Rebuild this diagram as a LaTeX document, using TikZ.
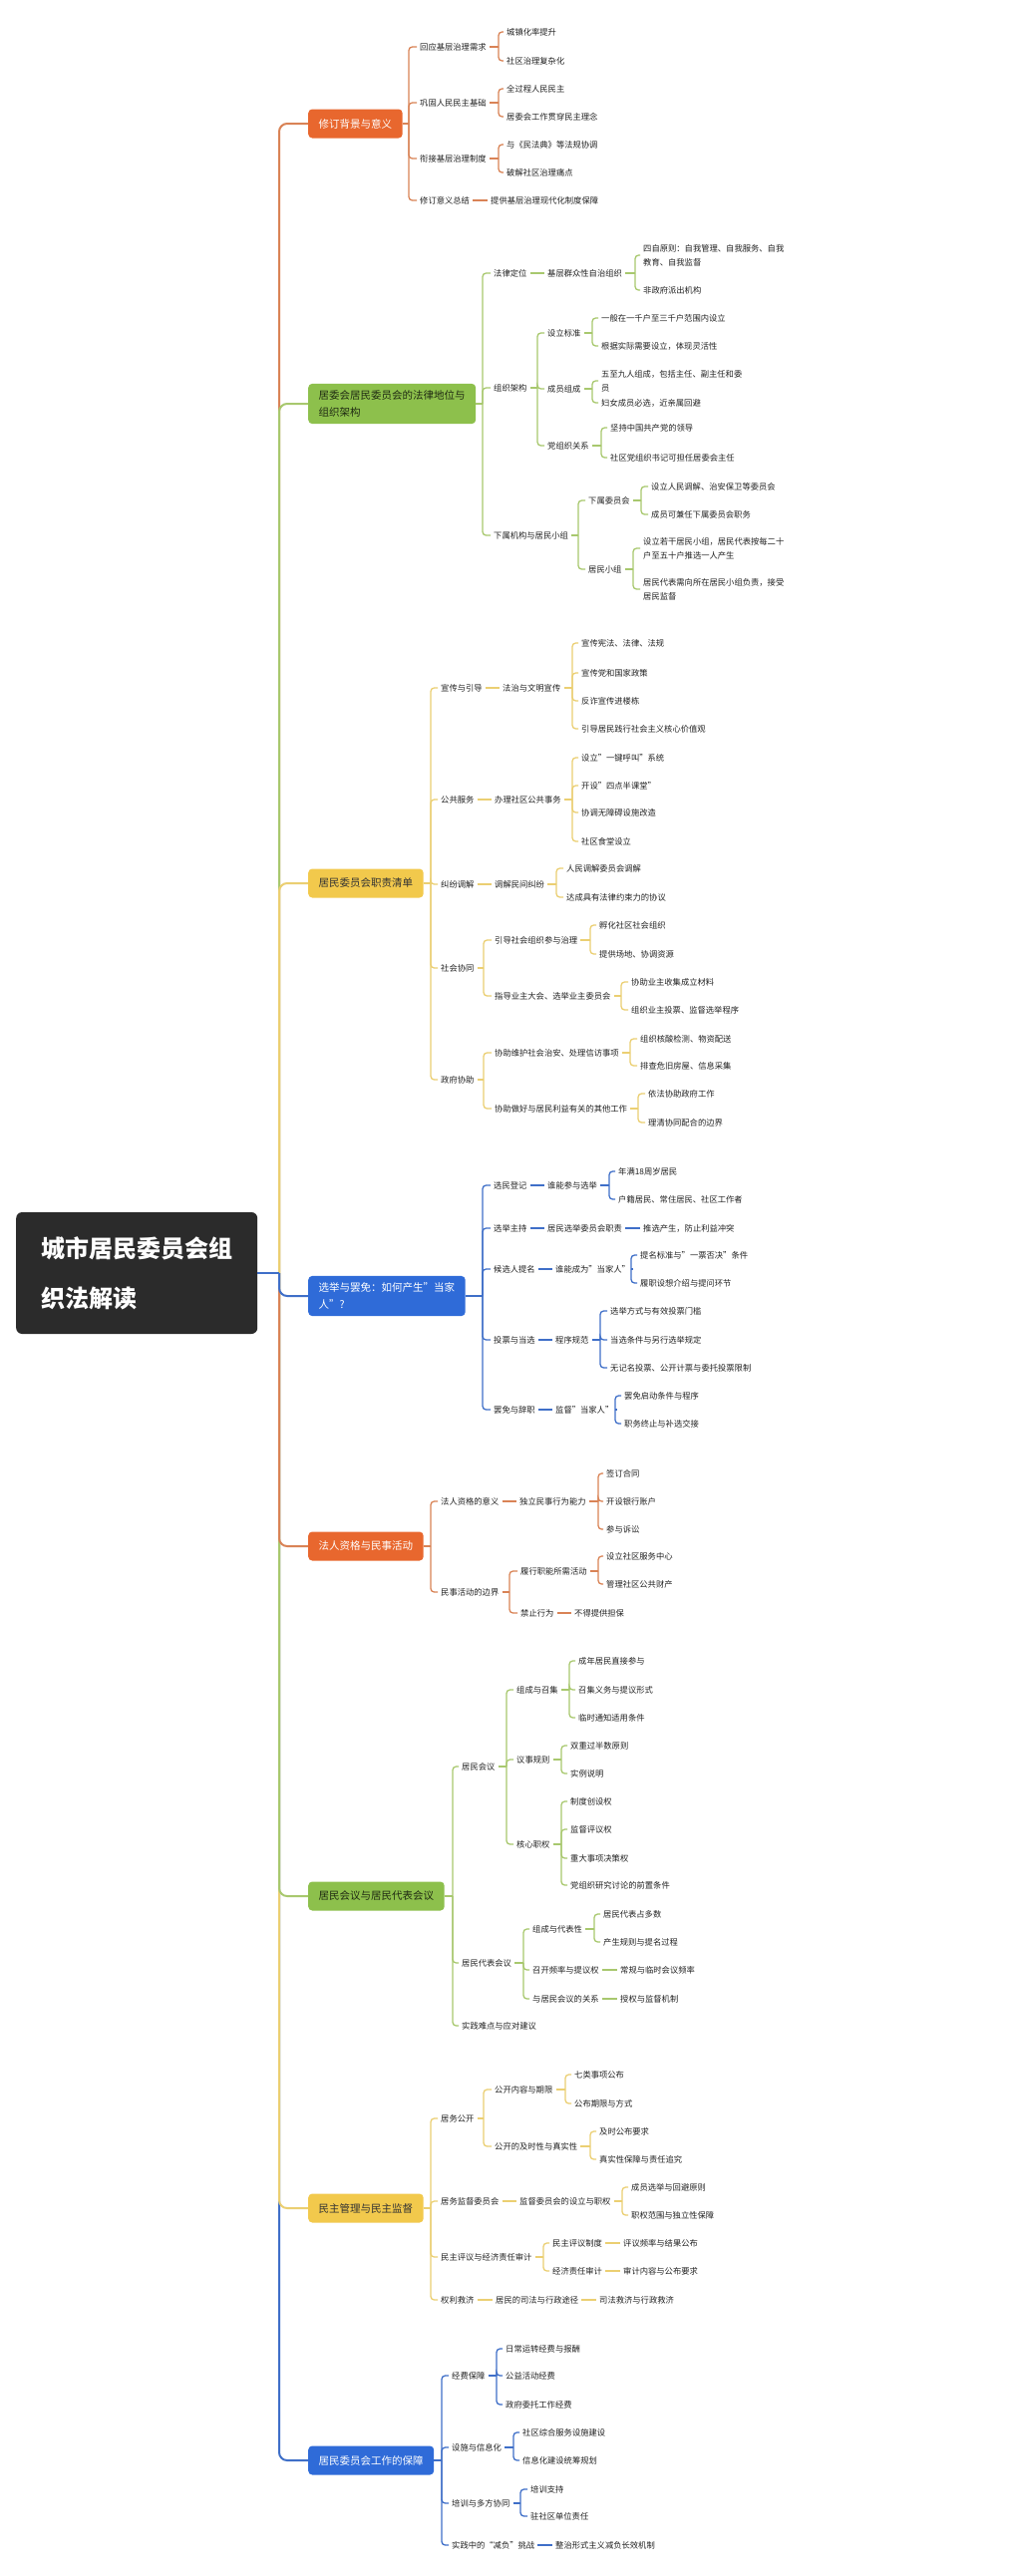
\documentclass[tikz,border=0pt]{standalone}
\usepackage{fontspec}
\setmainfont{Noto Sans CJK SC}
\definecolor{oB}{HTML}{E8672E}
\definecolor{oL}{HTML}{D98356}
\definecolor{gB}{HTML}{8DC04C}
\definecolor{gL}{HTML}{A8C86E}
\definecolor{gT}{HTML}{1F2A12}
\definecolor{yB}{HTML}{F2C94C}
\definecolor{yL}{HTML}{EBCF72}
\definecolor{yT}{HTML}{333333}
\definecolor{bB}{HTML}{2F6BD8}
\definecolor{bL}{HTML}{3F6FC8}
\definecolor{rootC}{HTML}{2B2B2B}
\definecolor{txt}{HTML}{222222}
\def\bc{oL}
\newcommand\mtext[4]{\node[t] (#1) at ({#2-3},{-#3}) {#4};}
\newcommand\mfork[3]{\coordinate (#1j) at (#1.east -| #2,0);
  \draw[c] (#1.east) -- (#1j);
  \foreach \kid in {#3}{\draw[c,rounded corners=3.5pt] (#1j) |- (\kid.west);}}
\newcommand\mlink[2]{\draw[c] (#1.east) -- (#2.west);}
\begin{document}
\begin{tikzpicture}[x=1pt,y=1pt,
 t/.style={anchor=west, inner xsep=3pt, inner ysep=1pt, text=txt, font=\fontsize{8.3}{13.8}\selectfont, align=left},
 lone/.style={anchor=west, rounded corners=4pt, inner xsep=10.5pt, inner ysep=7pt, minimum height=29pt, font=\fontsize{10.5}{16.5}\selectfont, align=left},
 c/.style={draw=\bc, line width=1.3pt},
 trunk/.style={line width=2pt, rounded corners=8pt}]
\fill[white] (0,0) rectangle (1013,-2584);
\useasboundingbox (0,0) rectangle (1013,-2584);

% root
\node[anchor=west, fill=rootC, rounded corners=6pt, text=white, font=\fontsize{24}{50}\selectfont\bfseries, inner xsep=25pt, minimum height=122pt, align=left] (root) at (16,-1277) {城市居民委员会组\\织法解读};

% level-1 boxes
\node[lone, fill=oB, text=white] (a) at (309,-124) {修订背景与意义};
\node[lone, fill=gB, text=gT] (b) at (309,-405) {居委会居民委员会的法律地位与\\组织架构};
\node[lone, fill=yB, text=yT] (c) at (309,-886) {居民委员会职责清单};
\node[lone, fill=bB, text=white] (d) at (309,-1300) {选举与罢免：如何产生"当家\\人"?};
\node[lone, fill=oB, text=white] (e) at (309,-1551) {法人资格与民事活动};
\node[lone, fill=gB, text=gT] (f) at (309,-1902) {居民会议与居民代表会议};
\node[lone, fill=yB, text=yT] (g) at (309,-2215) {民主管理与民主监督};
\node[lone, fill=bB, text=white] (h) at (309,-2468) {居民委员会工作的保障};

% trunk
\coordinate (rj) at (280,-1277);
\draw[trunk, draw=oL] (rj) |- (a.west);
\draw[trunk, draw=gL] (rj) |- (b.west);
\draw[trunk, draw=yL] (rj) |- (c.west);
\draw[trunk, draw=bL] (rj) |- (h.west);
\draw[trunk, draw=yL] (rj) |- (g.west);
\draw[trunk, draw=gL] (rj) |- (f.west);
\draw[trunk, draw=oL] (rj) |- (e.west);
\draw[trunk, draw=bL] (rj) |- (d.west);
\draw[line width=2pt, draw=bL] (root.east) -- (rj);

% branch a
\def\bc{oL}
\mtext{a1}{421}{47}{回应基层治理需求}
\mtext{a2}{421}{103}{巩固人民民主基础}
\mtext{a3}{421}{159}{衔接基层治理制度}
\mtext{a4}{421}{201}{修订意义总结}
\mfork{a}{410}{a1,a2,a3,a4}
\mtext{a11}{508}{32}{城镇化率提升}
\mtext{a12}{508}{61}{社区治理复杂化}
\mfork{a1}{500}{a11,a12}
\mtext{a21}{508}{89}{全过程人民民主}
\mtext{a22}{508}{117}{居委会工作贯穿民主理念}
\mfork{a2}{500}{a21,a22}
\mtext{a31}{508}{145}{与《民法典》等法规协调}
\mtext{a32}{508}{173}{破解社区治理痛点}
\mfork{a3}{500}{a31,a32}
\mtext{a41}{492}{201}{提供基层治理现代化制度保障}
\mlink{a4}{a41}

% branch b
\def\bc{gL}
\mtext{b1}{495}{274}{法律定位}
\mtext{b2}{495}{389}{组织架构}
\mtext{b3}{495}{537}{下属机构与居民小组}
\mfork{b}{484}{b1,b2,b3}
\mtext{b11}{549}{274}{基层群众性自治组织}
\mlink{b1}{b11}
\mtext{b111}{645}{256}{四自原则：自我管理、自我服务、自我\\教育、自我监督}
\mtext{b112}{645}{291}{非政府派出机构}
\mfork{b11}{637}{b111,b112}
\mtext{b21}{549}{334}{设立标准}
\mtext{b22}{549}{390}{成员组成}
\mtext{b23}{549}{447}{党组织关系}
\mfork{b2}{539}{b21,b22,b23}
\mtext{b211}{603}{319}{一般在一千户至三千户范围内设立}
\mtext{b212}{603}{347}{根据实际需要设立，体现灵活性}
\mfork{b21}{594}{b211,b212}
\mtext{b221}{603}{382}{五至九人组成，包括主任、副主任和委\\员}
\mtext{b222}{603}{404}{妇女成员必选，近亲属回避}
\mfork{b22}{594}{b221,b222}
\mtext{b231}{612}{429}{坚持中国共产党的领导}
\mtext{b232}{612}{459}{社区党组织书记可担任居委会主任}
\mfork{b23}{603}{b231,b232}
\mtext{b31}{590}{502}{下属委员会}
\mtext{b32}{590}{571}{居民小组}
\mfork{b3}{580}{b31,b32}
\mtext{b311}{653}{488}{设立人民调解、治安保卫等委员会}
\mtext{b312}{653}{516}{成员可兼任下属委员会职务}
\mfork{b31}{643}{b311,b312}
\mtext{b321}{645}{550}{设立若干居民小组，居民代表按每二十\\户至五十户推选一人产生}
\mtext{b322}{645}{591}{居民代表需向所在居民小组负责，接受\\居民监督}
\mfork{b32}{635}{b321,b322}

% branch c
\def\bc{yL}
\mtext{c1}{442}{690}{宣传与引导}
\mtext{c2}{442}{802}{公共服务}
\mtext{c3}{442}{887}{纠纷调解}
\mtext{c4}{442}{971}{社会协同}
\mtext{c5}{442}{1083}{政府协助}
\mfork{c}{432}{c1,c2,c3,c4,c5}
\mtext{c11}{504}{690}{法治与文明宣传}
\mlink{c1}{c11}
\mtext{c111}{583}{645}{宣传宪法、法律、法规}
\mtext{c112}{583}{675}{宣传党和国家政策}
\mtext{c113}{583}{703}{反诈宣传进楼栋}
\mtext{c114}{583}{731}{引导居民践行社会主义核心价值观}
\mfork{c11}{574}{c111,c112,c113,c114}
\mtext{c21}{496}{802}{办理社区公共事务}
\mlink{c2}{c21}
\mtext{c211}{583}{760}{设立"一键呼叫"系统}
\mtext{c212}{583}{788}{开设"四点半课堂"}
\mtext{c213}{583}{815}{协调无障碍设施改造}
\mtext{c214}{583}{844}{社区食堂设立}
\mfork{c21}{574}{c211,c212,c213,c214}
\mtext{c31}{496}{887}{调解民间纠纷}
\mlink{c3}{c31}
\mtext{c311}{568}{871}{人民调解委员会调解}
\mtext{c312}{568}{900}{达成具有法律约束力的协议}
\mfork{c31}{558}{c311,c312}
\mtext{c41}{496}{943}{引导社会组织参与治理}
\mtext{c42}{496}{999}{指导业主大会、选举业主委员会}
\mfork{c4}{485}{c41,c42}
\mtext{c411}{601}{928}{孵化社区社会组织}
\mtext{c412}{601}{957}{提供场地、协调资源}
\mfork{c41}{592}{c411,c412}
\mtext{c421}{633}{985}{协助业主收集成立材料}
\mtext{c422}{633}{1013}{组织业主投票、监督选举程序}
\mfork{c42}{623}{c421,c422}
\mtext{c51}{496}{1056}{协助维护社会治安、处理信访事项}
\mtext{c52}{496}{1112}{协助做好与居民利益有关的其他工作}
\mfork{c5}{485}{c51,c52}
\mtext{c511}{642}{1042}{组织核酸检测、物资配送}
\mtext{c512}{642}{1069}{排查危旧房屋、信息采集}
\mfork{c51}{632}{c511,c512}
\mtext{c521}{650}{1097}{依法协助政府工作}
\mtext{c522}{650}{1126}{理清协同配合的边界}
\mfork{c52}{640}{c521,c522}

% branch d
\def\bc{bL}
\mtext{d1}{495}{1189}{选民登记}
\mtext{d2}{495}{1232}{选举主持}
\mtext{d3}{495}{1273}{候选人提名}
\mtext{d4}{495}{1344}{投票与当选}
\mtext{d5}{495}{1414}{罢免与辞职}
\mfork{d}{484}{d1,d2,d3,d4,d5}
\mtext{d11}{549}{1189}{谁能参与选举}
\mlink{d1}{d11}
\mtext{d111}{620}{1175}{年满18周岁居民}
\mtext{d112}{620}{1203}{户籍居民、常住居民、社区工作者}
\mfork{d11}{611}{d111,d112}
\mtext{d21}{549}{1232}{居民选举委员会职责}
\mlink{d2}{d21}
\mtext{d211}{645}{1232}{推选产生，防止利益冲突}
\mlink{d21}{d211}
\mtext{d31}{557}{1273}{谁能成为"当家人"}
\mlink{d3}{d31}
\mtext{d311}{642}{1259}{提名标准与"一票否决"条件}
\mtext{d312}{642}{1287}{履职设想介绍与提问环节}
\mfork{d31}{633}{d311,d312}
\mtext{d41}{557}{1344}{程序规范}
\mlink{d4}{d41}
\mtext{d411}{612}{1315}{选举方式与有效投票门槛}
\mtext{d412}{612}{1344}{当选条件与另行选举规定}
\mtext{d413}{612}{1372}{无记名投票、公开计票与委托投票限制}
\mfork{d41}{602}{d411,d412,d413}
\mtext{d51}{557}{1414}{监督"当家人"}
\mlink{d5}{d51}
\mtext{d511}{626}{1400}{罢免启动条件与程序}
\mtext{d512}{626}{1428}{职务终止与补选交接}
\mfork{d51}{617}{d511,d512}

% branch e
\def\bc{oL}
\mtext{e1}{442}{1506}{法人资格的意义}
\mtext{e2}{442}{1597}{民事活动的边界}
\mfork{e}{432}{e1,e2}
\mtext{e11}{521}{1506}{独立民事行为能力}
\mlink{e1}{e11}
\mtext{e111}{608}{1478}{签订合同}
\mtext{e112}{608}{1506}{开设银行账户}
\mtext{e113}{608}{1534}{参与诉讼}
\mfork{e11}{600}{e111,e112,e113}
\mtext{e21}{522}{1576}{履行职能所需活动}
\mtext{e22}{522}{1618}{禁止行为}
\mfork{e2}{511}{e21,e22}
\mtext{e211}{608}{1561}{设立社区服务中心}
\mtext{e212}{608}{1589}{管理社区公共财产}
\mfork{e21}{600}{e211,e212}
\mtext{e221}{576}{1618}{不得提供担保}
\mlink{e22}{e221}

% branch f
\def\bc{gL}
\mtext{f1}{463}{1772}{居民会议}
\mtext{f2}{463}{1969}{居民代表会议}
\mtext{f3}{463}{2032}{实践难点与应对建议}
\mfork{f}{454}{f1,f2,f3}
\mtext{f11}{518}{1695}{组成与召集}
\mtext{f12}{518}{1765}{议事规则}
\mtext{f13}{518}{1850}{核心职权}
\mfork{f1}{508}{f11,f12,f13}
\mtext{f111}{580}{1666}{成年居民直接参与}
\mtext{f112}{580}{1695}{召集义务与提议形式}
\mtext{f113}{580}{1723}{临时通知适用条件}
\mfork{f11}{571}{f111,f112,f113}
\mtext{f121}{572}{1751}{双重过半数原则}
\mtext{f122}{572}{1779}{实例说明}
\mfork{f12}{563}{f121,f122}
\mtext{f131}{572}{1807}{制度创设权}
\mtext{f132}{572}{1835}{监督评议权}
\mtext{f133}{572}{1864}{重大事项决策权}
\mtext{f134}{572}{1891}{党组织研究讨论的前置条件}
\mfork{f13}{563}{f131,f132,f133,f134}
\mtext{f21}{534}{1935}{组成与代表性}
\mtext{f22}{534}{1976}{召开频率与提议权}
\mtext{f23}{534}{2005}{与居民会议的关系}
\mfork{f2}{525}{f21,f22,f23}
\mtext{f211}{605}{1920}{居民代表占多数}
\mtext{f212}{605}{1948}{产生规则与提名过程}
\mfork{f21}{596}{f211,f212}
\mtext{f221}{622}{1976}{常规与临时会议频率}
\mlink{f22}{f221}
\mtext{f231}{622}{2005}{授权与监督机制}
\mlink{f23}{f231}

% branch g
\def\bc{yL}
\mtext{g1}{442}{2125}{居务公开}
\mtext{g2}{442}{2208}{居务监督委员会}
\mtext{g3}{442}{2264}{民主评议与经济责任审计}
\mtext{g4}{442}{2307}{权利救济}
\mfork{g}{432}{g1,g2,g3,g4}
\mtext{g11}{496}{2096}{公开内容与期限}
\mtext{g12}{496}{2153}{公开的及时性与真实性}
\mfork{g1}{485}{g11,g12}
\mtext{g111}{576}{2081}{七类事项公布}
\mtext{g112}{576}{2110}{公布期限与方式}
\mfork{g11}{567}{g111,g112}
\mtext{g121}{601}{2138}{及时公布要求}
\mtext{g122}{601}{2166}{真实性保障与责任追究}
\mfork{g12}{592}{g121,g122}
\mtext{g21}{521}{2208}{监督委员会的设立与职权}
\mlink{g2}{g21}
\mtext{g211}{633}{2194}{成员选举与回避原则}
\mtext{g212}{633}{2222}{职权范围与独立性保障}
\mfork{g21}{624}{g211,g212}
\mtext{g31}{554}{2250}{民主评议制度}
\mtext{g32}{554}{2278}{经济责任审计}
\mfork{g3}{545}{g31,g32}
\mtext{g311}{625}{2250}{评议频率与结果公布}
\mlink{g31}{g311}
\mtext{g321}{625}{2278}{审计内容与公布要求}
\mlink{g32}{g321}
\mtext{g41}{497}{2307}{居民的司法与行政途径}
\mlink{g4}{g41}
\mtext{g411}{601}{2307}{司法救济与行政救济}
\mlink{g41}{g411}

% branch h
\def\bc{bL}
\mtext{h1}{453}{2383}{经费保障}
\mtext{h2}{453}{2455}{设施与信息化}
\mtext{h3}{453}{2511}{培训与多方协同}
\mtext{h4}{453}{2553}{实践中的“减负”挑战}
\mfork{h}{443}{h1,h2,h3,h4}
\mtext{h11}{507}{2356}{日常运转经费与报酬}
\mtext{h12}{507}{2383}{公益活动经费}
\mtext{h13}{507}{2412}{政府委托工作经费}
\mfork{h1}{498}{h11,h12,h13}
\mtext{h21}{524}{2440}{社区综合服务设施建设}
\mtext{h22}{524}{2468}{信息化建设统筹规划}
\mfork{h2}{515}{h21,h22}
\mtext{h31}{532}{2497}{培训支持}
\mtext{h32}{532}{2524}{驻社区单位责任}
\mfork{h3}{522}{h31,h32}
\mtext{h41}{557}{2553}{整治形式主义减负长效机制}
\mlink{h4}{h41}
\end{tikzpicture}
\end{document}
